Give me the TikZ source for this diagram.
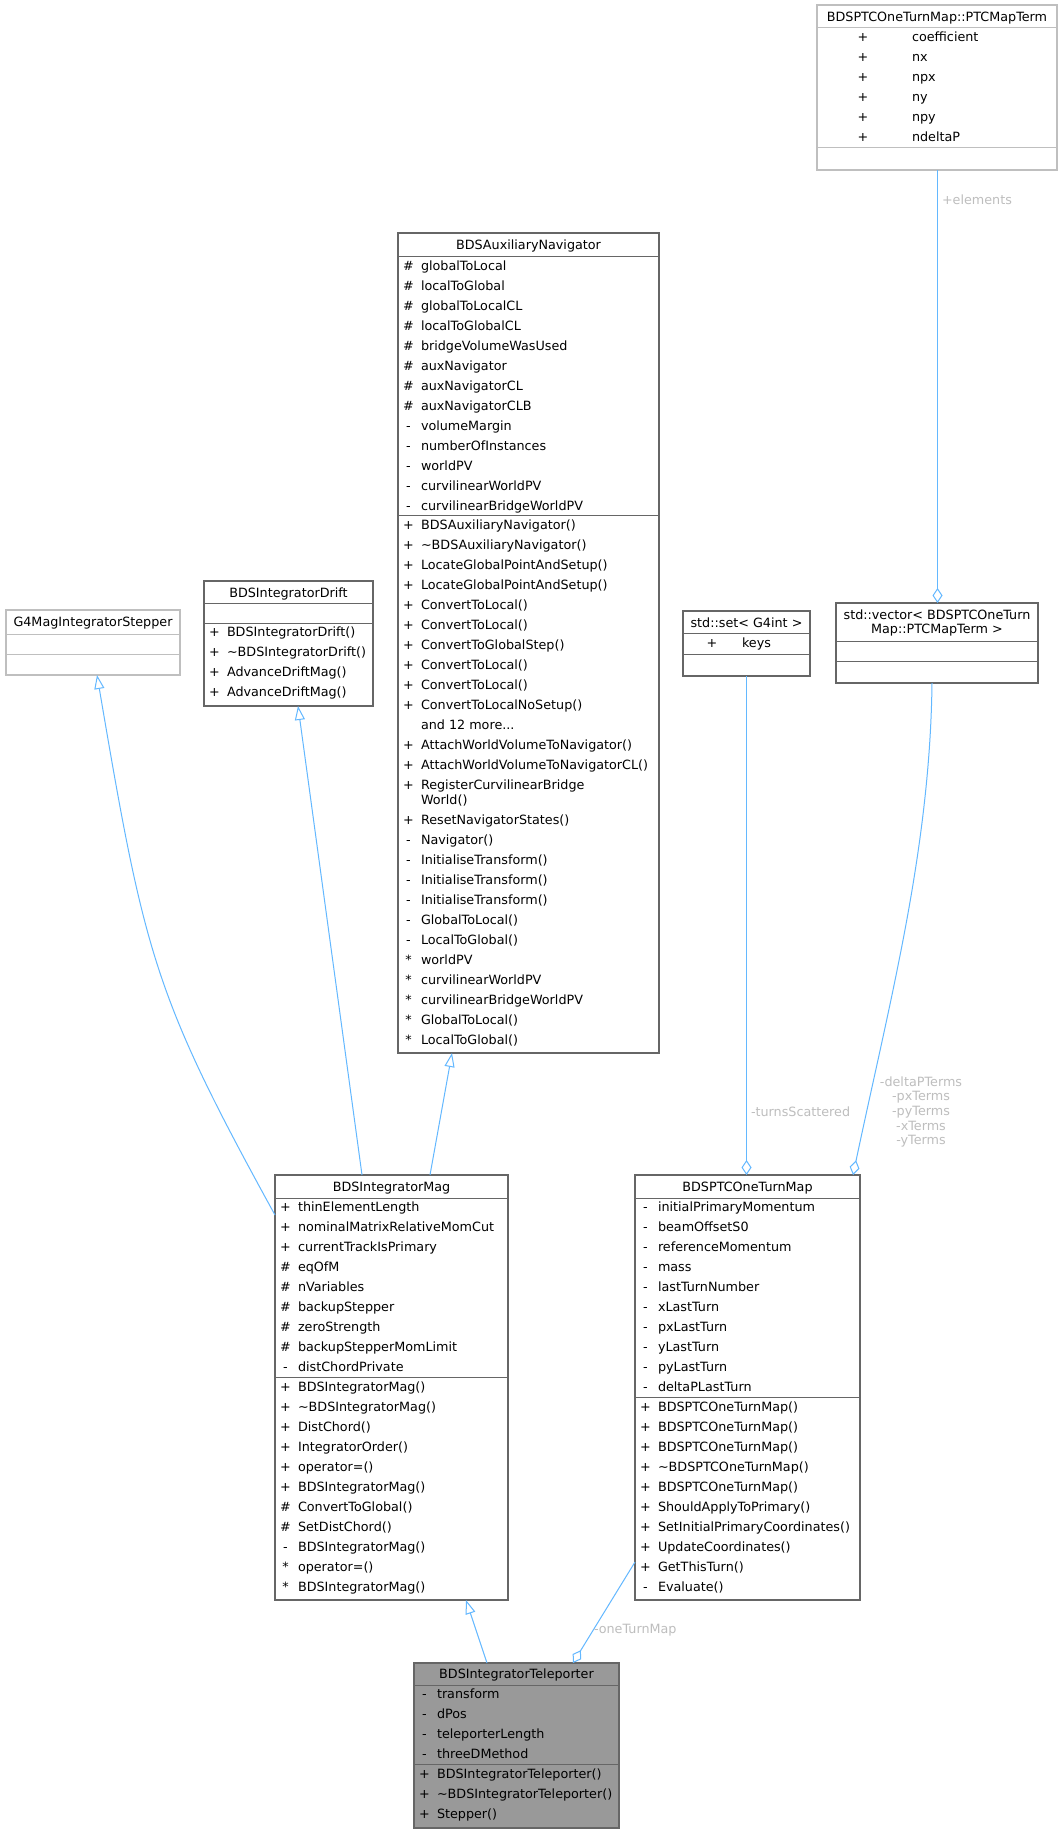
\documentclass[tikz,border=0pt]{standalone}
\usepackage{fontspec}
\setmainfont{DejaVu Sans}
\usetikzlibrary{arrows.meta,calc}
\definecolor{edgec}{HTML}{63B8FF}
\definecolor{labc}{HTML}{BEBEBE}
\definecolor{bordc}{HTML}{666666}
\definecolor{lightb}{HTML}{BFBFBF}
\definecolor{curfill}{HTML}{999999}
\newcommand\andmoretxt{and 12 more...}
\newcommand\rowsAt[5]{%
  \foreach \s/\t [count=\i from 0] in {#5} {
    \node[sym] (#1s\i) at (#2, #4+20*\i+4.5) {\s};
    \node[txt] (#1t\i) at (#3, #4+20*\i+4.5) {\t};
  }}
\begin{document}
\begin{tikzpicture}[x=1pt,y=-1pt,
  every node/.style={font=\fontsize{12.75}{14.7}\selectfont, inner sep=0pt, outer sep=0pt},
  box/.style={draw=bordc, line width=1.3pt, fill=white, anchor=north west},
  ubox/.style={box, draw=lightb},
  sepl/.style={draw=bordc, line width=1pt},
  usepl/.style={draw=lightb, line width=1pt},
  txt/.style={anchor=base west},
  ttl/.style={anchor=base},
  sym/.style={anchor=base},
  lab/.style={text=labc, anchor=west},
  inh/.style={draw=edgec, line width=1pt, -{Triangle[open,length=14pt,width=10pt]}},
  agg/.style={draw=edgec, line width=1pt, -{Diamond[open,length=15pt,width=10pt]}},
]
\useasboundingbox[fill=white] (0,0) rectangle (1061,1833);

% ---------- PTCMapTerm ----------
\node[ubox, minimum width=240pt, minimum height=165pt] (ptc) at (817,5) {};
\draw[usepl] (817,28) -- (1057,28);
\draw[usepl] (817,147) -- (1057,147);
\node[ttl] (ptcT) at (937,21.5) {BDSPTCOneTurnMap::PTCMapTerm};
\rowsAt{ptc}{863}{912}{37}{+/coefficient,+/nx,+/npx,+/ny,+/npy,+/ndeltaP}

% ---------- std::vector ----------
\node[box, minimum width=202pt, minimum height=80pt] (vec) at (836,603) {};
\draw[sepl] (836,641) -- (1038,641);
\draw[sepl] (836,661) -- (1038,661);
\node[ttl] (vecT1) at (937,619.5) {std::vector< BDSPTCOneTurn};
\node[ttl] (vecT2) at (937,633.5) {Map::PTCMapTerm >};

% ---------- std::set ----------
\node[box, minimum width=127pt, minimum height=65pt] (set) at (683,611) {};
\draw[sepl] (683,633) -- (810,633);
\draw[sepl] (683,654) -- (810,654);
\node[ttl] (setT) at (746.5,627.5) {std::set< G4int >};
\rowsAt{set}{712}{742}{643}{+/keys}

% ---------- G4MagIntegratorStepper ----------
\node[ubox, minimum width=174pt, minimum height=65pt] (g4) at (6,610) {};
\draw[usepl] (6,634) -- (180,634);
\draw[usepl] (6,654) -- (180,654);
\node[ttl] (g4T) at (93,626.5) {G4MagIntegratorStepper};

% ---------- BDSIntegratorDrift ----------
\node[box, minimum width=169pt, minimum height=125pt] (drift) at (204,581) {};
\draw[sepl] (204,603) -- (373,603);
\draw[sepl] (204,623) -- (373,623);
\node[ttl] (driftT) at (288.5,597.5) {BDSIntegratorDrift};
\rowsAt{drm}{214.5}{227}{632}{+/BDSIntegratorDrift(),+/\textasciitilde BDSIntegratorDrift(),+/AdvanceDriftMag(),+/AdvanceDriftMag()}

% ---------- BDSAuxiliaryNavigator ----------
\node[box, minimum width=261pt, minimum height=820pt] (aux) at (398,233) {};
\draw[sepl] (398,256) -- (659,256);
\draw[sepl] (398,515.5) -- (659,515.5);
\node[ttl] (auxT) at (528.5,249.5) {BDSAuxiliaryNavigator};
\rowsAt{auxa}{408.5}{421}{266}{\#/globalToLocal,\#/localToGlobal,\#/globalToLocalCL,\#/localToGlobalCL,\#/bridgeVolumeWasUsed,\#/auxNavigator,\#/auxNavigatorCL,\#/auxNavigatorCLB,-/volumeMargin,-/numberOfInstances,-/worldPV,-/curvilinearWorldPV,-/curvilinearBridgeWorldPV}
\rowsAt{auxm}{408.5}{421}{525}{+/BDSAuxiliaryNavigator(),+/\textasciitilde BDSAuxiliaryNavigator(),+/LocateGlobalPointAndSetup(),+/LocateGlobalPointAndSetup(),+/ConvertToLocal(),+/ConvertToLocal(),+/ConvertToGlobalStep(),+/ConvertToLocal(),+/ConvertToLocal(),+/ConvertToLocalNoSetup(),{}/\andmoretxt,+/AttachWorldVolumeToNavigator(),+/AttachWorldVolumeToNavigatorCL()}
\node[sym] (auxRs) at (408.5,789.5) {+};
\node[txt] (auxR1) at (421,789.5) {RegisterCurvilinearBridge};
\node[txt] (auxR2) at (421,804.5) {World()};
\rowsAt{auxn}{408.5}{421}{820}{+/ResetNavigatorStates(),-/Navigator(),-/InitialiseTransform(),-/InitialiseTransform(),-/InitialiseTransform(),-/GlobalToLocal(),-/LocalToGlobal(),*/worldPV,*/curvilinearWorldPV,*/curvilinearBridgeWorldPV,*/GlobalToLocal(),*/LocalToGlobal()}

% ---------- BDSIntegratorMag ----------
\node[box, minimum width=233pt, minimum height=425pt] (mag) at (275,1175) {};
\draw[sepl] (275,1198) -- (508,1198);
\draw[sepl] (275,1377.5) -- (508,1377.5);
\node[ttl] (magT) at (391.5,1191.5) {BDSIntegratorMag};
\rowsAt{maga}{285.5}{298}{1207}{+/thinElementLength,+/nominalMatrixRelativeMomCut,+/currentTrackIsPrimary,\#/eqOfM,\#/nVariables,\#/backupStepper,\#/zeroStrength,\#/backupStepperMomLimit,-/distChordPrivate}
\rowsAt{magm}{285.5}{298}{1387}{+/BDSIntegratorMag(),+/\textasciitilde BDSIntegratorMag(),+/DistChord(),+/IntegratorOrder(),+/operator=(),+/BDSIntegratorMag(),\#/ConvertToGlobal(),\#/SetDistChord(),-/BDSIntegratorMag(),*/operator=(),*/BDSIntegratorMag()}

% ---------- BDSPTCOneTurnMap ----------
\node[box, minimum width=225pt, minimum height=425pt] (otm) at (635,1175) {};
\draw[sepl] (635,1198) -- (860,1198);
\draw[sepl] (635,1397.5) -- (860,1397.5);
\node[ttl] (otmT) at (747.5,1191.5) {BDSPTCOneTurnMap};
\rowsAt{otma}{645.5}{658}{1207}{-/initialPrimaryMomentum,-/beamOffsetS0,-/referenceMomentum,-/mass,-/lastTurnNumber,-/xLastTurn,-/pxLastTurn,-/yLastTurn,-/pyLastTurn,-/deltaPLastTurn}
\rowsAt{otmm}{645.5}{658}{1407}{+/BDSPTCOneTurnMap(),+/BDSPTCOneTurnMap(),+/BDSPTCOneTurnMap(),+/\textasciitilde BDSPTCOneTurnMap(),+/BDSPTCOneTurnMap(),+/ShouldApplyToPrimary(),+/SetInitialPrimaryCoordinates(),+/UpdateCoordinates(),+/GetThisTurn(),-/Evaluate()}

% ---------- BDSIntegratorTeleporter ----------
\node[box, fill=curfill, minimum width=205pt, minimum height=165pt] (tele) at (414,1663) {};
\draw[sepl] (414,1685) -- (619,1685);
\draw[sepl] (414,1764.5) -- (619,1764.5);
\node[ttl] (teleT) at (516.5,1678.5) {BDSIntegratorTeleporter};
\rowsAt{telea}{424.5}{437}{1694}{-/transform,-/dPos,-/teleporterLength,-/threeDMethod}
\rowsAt{telem}{424.5}{437}{1774}{+/BDSIntegratorTeleporter(),+/\textasciitilde BDSIntegratorTeleporter(),+/Stepper()}

% ---------- connectors ----------
\draw[agg] ($(ptc.south)+(0.5,0)$) -- ($(vec.north)+(0.5,0)$);
\node[lab] (lElem) at (942,200) {+elements};

\draw[agg] (set.south) -- (set.south |- otm.north);
\node[lab] (lTurn) at (751,1112) {-turnsScattered};

\draw[agg] ($(vec.south west)+(96,0)$) .. controls (930,850) and (890,1000) .. ($(otm.north west)+(218,0)$);
\node[text=labc, align=center] (lDelta) at (921,1112) {-deltaPTerms\\-pxTerms\\-pyTerms\\-xTerms\\-yTerms};

\draw[inh] ($(mag.north west)+(0,40)$) .. controls (154,995) and (144.6,955) .. ($(g4.south west)+(91,0)$);
\draw[inh] ($(mag.north west)+(87,0)$) -- ($(drift.south west)+(94,0)$);
\draw[inh] ($(mag.north west)+(155,0)$) -- ($(aux.south west)+(54,0)$);
\draw[inh] ($(tele.north west)+(73,0)$) -- ($(mag.south west)+(191,0)$);

\draw[agg] ($(otm.south west)+(0,-38)$) -- ($(tele.north west)+(159,0)$);
\node[lab] (lOne) at (594,1630) {-oneTurnMap};
\end{tikzpicture}
\end{document}
